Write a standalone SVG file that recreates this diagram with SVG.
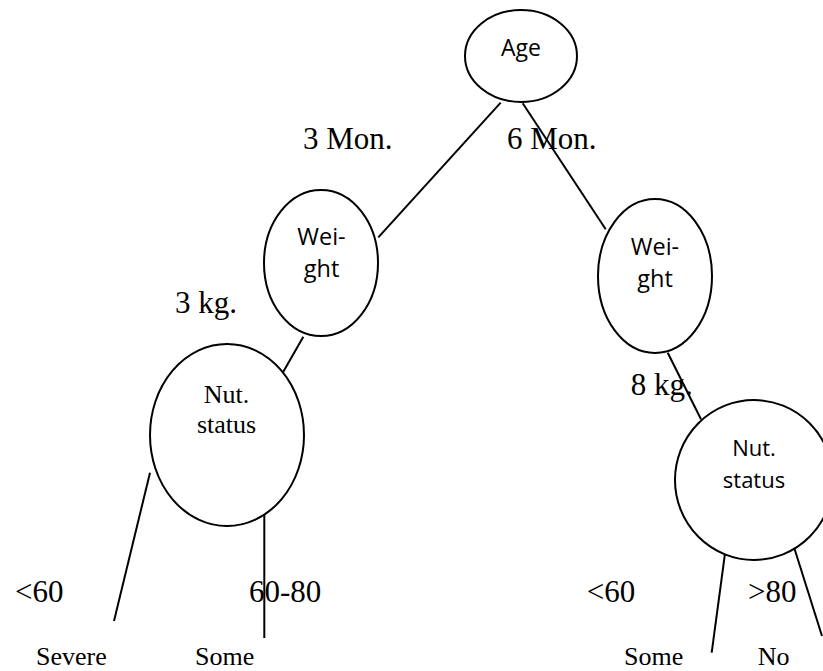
<svg xmlns="http://www.w3.org/2000/svg" width="823" height="671" viewBox="0 0 823 671">
<style>
.n{fill:#fff;stroke:#000;stroke-width:2}
.c line{stroke:#000;stroke-width:2}
.s{font-family:"Open Sans","Liberation Sans",sans-serif;font-size:22px;fill:#000;text-anchor:middle}
.w{font-size:23.5px}
.t{font-family:"Liberation Serif","Times New Roman",serif;fill:#000}
.lb{font-size:31px}
.sm{font-size:26px}
</style>
<rect width="823" height="671" fill="#fff"/>
<g id="connectors" class="c">
<line x1="500.7" y1="102.7" x2="378.3" y2="237.3"/>
<line x1="522.7" y1="103.3" x2="605.7" y2="229.3"/>
<line x1="303.3" y1="336.7" x2="283.3" y2="371.7"/>
<line x1="667.7" y1="352.7" x2="701" y2="419.3"/>
<line x1="150" y1="472.7" x2="114" y2="621"/>
<line x1="264.3" y1="513" x2="264.3" y2="638"/>
<line x1="725" y1="553.3" x2="711.7" y2="652.7"/>
<line x1="792.3" y1="541.7" x2="822" y2="636"/>
</g>
<g id="age">
<ellipse class="n" cx="521" cy="56" rx="56" ry="46"/>
<text class="s" x="521" y="56" style="font-size:23px">Age</text>
</g>
<g id="weight-left">
<ellipse class="n" cx="321" cy="263" rx="57" ry="73"/>
<text class="s w" x="321.5" y="245">Wei-</text>
<text class="s w" x="321.5" y="277">ght</text>
</g>
<g id="weight-right">
<ellipse class="n" cx="655" cy="276" rx="57" ry="77"/>
<text class="s w" x="655" y="255">Wei-</text>
<text class="s w" x="655" y="287">ght</text>
</g>
<g id="nut-left">
<ellipse class="n" cx="227" cy="435" rx="77" ry="91"/>
<text class="t sm" x="226.5" y="403" text-anchor="middle">Nut.</text>
<text class="t sm" x="226.5" y="433" text-anchor="middle">status</text>
</g>
<g id="nut-right">
<ellipse class="n" cx="754" cy="480" rx="79" ry="80"/>
<text class="s" x="754" y="456">Nut.</text>
<text class="s" x="754" y="488">status</text>
</g>
<g id="labels">
<text class="t lb" x="303" y="149">3 Mon.</text>
<text class="t lb" x="507" y="149">6 Mon.</text>
<text class="t lb" x="175" y="312.7">3 kg.</text>
<text class="t lb" x="630.7" y="395">8 kg.</text>
<text class="t lb" x="15" y="602">&lt;60</text>
<text class="t lb" x="249" y="602">60-80</text>
<text class="t lb" x="586.7" y="602">&lt;60</text>
<text class="t lb" x="748" y="602">&gt;80</text>
<text class="t sm" x="36" y="665">Severe</text>
<text class="t sm" x="195" y="665">Some</text>
<text class="t sm" x="624" y="665">Some</text>
<text class="t sm" x="757.7" y="665">No</text>
</g>
</svg>
